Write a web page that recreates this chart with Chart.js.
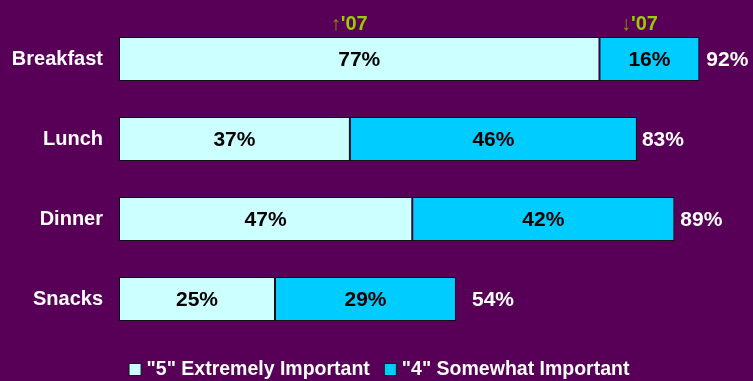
<!DOCTYPE html>
<html>
<head>
<meta charset="utf-8">
<script src="https://cdn.jsdelivr.net/npm/chart.js@4.4.0/dist/chart.umd.min.js"></script>
<style>
  html, body { margin: 0; padding: 0; background: #580058; }
  #wrap { width: 753px; height: 381px; position: relative; }
</style>
</head>
<body>
<div id="wrap"><canvas id="c" width="753" height="381"></canvas></div>
<script>
const categories = ["Breakfast", "Lunch", "Dinner", "Snacks"];
const extremelyImportant = [77, 37, 47, 25];
const somewhatImportant = [16, 46, 42, 29];
const totalLabels = ["92%", "83%", "89%", "54%"];
const seriesNames = ['"5" Extremely Important', '"4" Somewhat Important'];
const changeNotes = [
  { category: 0, dataset: 0, arrow: "↑", text: "'07" },
  { category: 0, dataset: 1, arrow: "↓", text: "'07" }
];

const FONT = "'Liberation Sans', Arial, sans-serif";

const labelsPlugin = {
  id: 'customLabels',
  afterDatasetsDraw(chart) {
    const ctx = chart.ctx;
    ctx.save();
    // segment value labels
    chart.data.datasets.forEach((ds, di) => {
      const meta = chart.getDatasetMeta(di);
      meta.data.forEach((bar, i) => {
        const cx = (bar.x + bar.base) / 2;
        ctx.font = "bold 21px " + FONT;
        ctx.fillStyle = "#000000";
        ctx.textAlign = "center";
        ctx.textBaseline = "middle";
        ctx.fillText(ds.data[i] + "%", cx, bar.y + 1);
      });
    });
    // totals
    const last = chart.getDatasetMeta(chart.data.datasets.length - 1);
    const gaps = [7, 5, 6, 16];
    last.data.forEach((bar, i) => {
      ctx.font = "bold 21px " + FONT;
      ctx.fillStyle = "#ffffff";
      ctx.textAlign = "left";
      ctx.textBaseline = "middle";
      ctx.fillText(totalLabels[i], bar.x + gaps[i], bar.y + 1);
    });
    // change notes
    changeNotes.forEach(n => {
      const bar = chart.getDatasetMeta(n.dataset).data[n.category];
      const cx = (bar.x + bar.base) / 2 - 10;
      const top = bar.y - bar.height / 2;
      ctx.textBaseline = "alphabetic";
      ctx.font = "20px " + FONT;
      const aw = ctx.measureText(n.arrow).width;
      ctx.font = "bold 20px " + FONT;
      const tw = ctx.measureText(n.text).width;
      const x0 = cx - (aw + tw) / 2;
      const y = top - 7;
      ctx.textAlign = "left";
      ctx.font = "20px " + FONT;
      ctx.fillStyle = "#8a9000";
      ctx.fillText(n.arrow, x0, y);
      ctx.font = "bold 20px " + FONT;
      ctx.fillStyle = "#99cc00";
      ctx.fillText(n.text, x0 + aw, y);
    });
    // legend
    ctx.font = "bold 19.5px " + FONT;
    const box = 12, gapBox = 6, gapItem = 14;
    const items = chart.data.datasets.map(ds => ({
      text: ds.label, fill: ds.backgroundColor, w: ctx.measureText(ds.label).width
    }));
    let total = 0;
    items.forEach((it, k) => { total += box + gapBox + it.w + (k ? gapItem : 0); });
    let x = 379 - total / 2;
    const yc = 369;
    items.forEach((it, k) => {
      if (k) x += gapItem;
      ctx.fillStyle = it.fill;
      ctx.fillRect(x + 0.5, yc - box / 2 + 0.5, box, box);
      ctx.strokeStyle = '#1a1a1a';
      ctx.lineWidth = 1;
      ctx.strokeRect(x + 0.5, yc - box / 2 + 0.5, box, box);
      x += box + gapBox;
      ctx.fillStyle = '#ffffff';
      ctx.textAlign = 'left';
      ctx.textBaseline = 'middle';
      ctx.fillText(it.text, x, yc + 1);
      x += it.w;
    });
    ctx.restore();
  }
};

new Chart(document.getElementById('c'), {
  type: 'bar',
  data: {
    labels: categories,
    datasets: [
      {
        label: seriesNames[0],
        data: extremelyImportant,
        backgroundColor: '#ccffff',
        borderColor: '#111111',
        borderWidth: 1,
        borderSkipped: false,
        barPercentage: 1,
        categoryPercentage: 0.55
      },
      {
        label: seriesNames[1],
        data: somewhatImportant,
        backgroundColor: '#00ccff',
        borderColor: '#111111',
        borderWidth: 1,
        borderSkipped: false,
        barPercentage: 1,
        categoryPercentage: 0.55
      }
    ]
  },
  options: {
    indexAxis: 'y',
    responsive: false,
    animation: false,
    layout: { padding: { top: 19, right: 10, left: 0, bottom: 42 } },
    scales: {
      x: { display: false, stacked: true, min: 0, max: 100 },
      y: {
        stacked: true,
        grid: { display: false, drawTicks: false },
        border: { display: false },
        ticks: {
          color: '#ffffff',
          padding: 16,
          font: { family: FONT, size: 20, weight: 'bold' }
        },
        afterFit(scale) {
          scale.width = 119;
          scale.paddingTop = 0;
          scale.paddingBottom = 0;
        }
      }
    },
    plugins: {
      legend: { display: false },
      tooltip: { enabled: false }
    }
  },
  plugins: [labelsPlugin]
});
</script>
</body>
</html>
